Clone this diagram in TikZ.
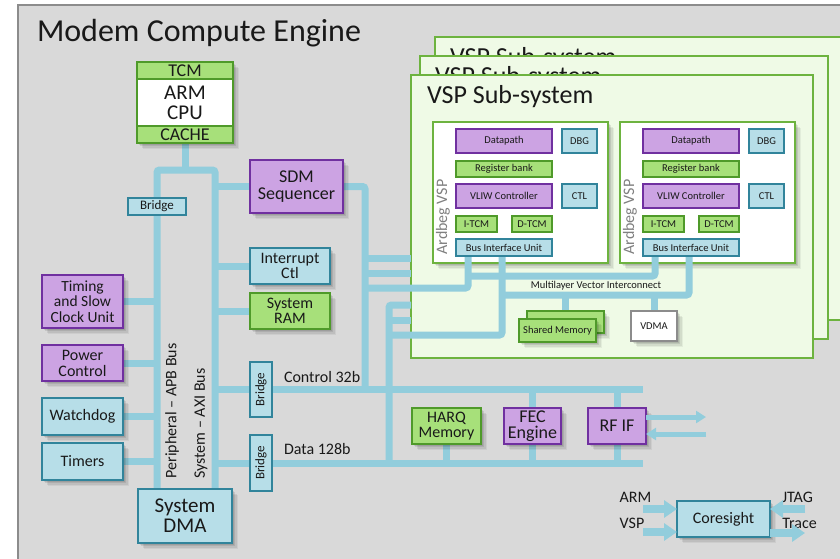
\documentclass[tikz,border=0pt]{standalone}
\usepackage{fontspec}
\setmainfont{Carlito}
\usetikzlibrary{arrows.meta}

\definecolor{bggray}{HTML}{D9D9D9}
\definecolor{framegray}{HTML}{8C8C8C}
\definecolor{busblue}{HTML}{92CDDC}
\definecolor{blufill}{HTML}{B7DEE8}
\definecolor{bluline}{HTML}{31849B}
\definecolor{purfill}{HTML}{CCA3E3}
\definecolor{purline}{HTML}{7030A0}
\definecolor{grnfill}{HTML}{A7E07A}
\definecolor{grnline}{HTML}{4F9A2A}
\definecolor{vspfill}{HTML}{EFFAE6}
\definecolor{vspline}{HTML}{6DB33F}
\definecolor{txtgray}{HTML}{808080}
\definecolor{vdmaline}{HTML}{8C8C8C}

\newcommand\fsz[2]{\fontsize{#1}{#2}\selectfont}

\pgfdeclarelayer{vsplayer}
\pgfdeclarelayer{buslayer}
\pgfsetlayers{vsplayer,buslayer,main}

\tikzset{
  softshadow/.style={
    preaction={fill=black, fill opacity=0.09, transform canvas={xshift=1.5pt,yshift=-1.5pt}},
    preaction={fill=black, fill opacity=0.09, transform canvas={xshift=3pt,yshift=-3pt}},
    preaction={fill=black, fill opacity=0.07, transform canvas={xshift=4.5pt,yshift=-4.5pt}},
    preaction={fill=black, fill opacity=0.05, transform canvas={xshift=6pt,yshift=-6pt}}},
  blk/.style={draw, line width=1.3pt, inner sep=1pt, outer sep=0pt, align=center, text=black!90},
  bluebox/.style={blk, fill=blufill, draw=bluline},
  purbox/.style={blk, fill=purfill, draw=purline},
  grnbox/.style={blk, fill=grnfill, draw=grnline},
  vspbox/.style={draw=vspline, fill=vspfill, line width=1.3pt, inner sep=0pt, outer sep=0pt, anchor=north west},
  ardbox/.style={draw=vspline, fill=white, line width=1.2pt, inner sep=0pt, outer sep=0pt, anchor=north west, softshadow},
  lbl/.style={inner sep=0pt, outer sep=0pt, text=black!90},
  bus/.style={draw=busblue, line width=7pt, rounded corners=2.5pt},
  rfarrow/.style={draw=busblue, line width=5pt, -{Triangle[length=10pt,width=12pt]}},
  csarrow/.style={draw=busblue, line width=7.5pt, -{Triangle[length=13pt,width=17pt]}},
  small/.style={font=\fsz{10.5}{11}},
}

\begin{document}
\begin{tikzpicture}[x=1pt,y=-1pt]
\useasboundingbox (0,0) rectangle (840,558);

% engine frame, VSP sub-systems and cores (bottom layer)
\begin{pgfonlayer}{vsplayer}
\begin{scope}
\clip (0,0) rectangle (840,558);
\fill[bggray] (18,5) rectangle (850,570);
\draw[framegray, line width=2pt] (18,570) -- (18,5) -- (850,5);

% three stacked VSP sub-systems
\node[vspbox, minimum width=430pt, minimum height=283pt] (vspC) at (435,37) {};
\node[anchor=base west, font=\fsz{26}{26}, lbl] (vspCt) at (450,65) {VSP Sub-system};
\node[vspbox, minimum width=408pt, minimum height=283pt] (vspB) at (420,56) {};
\node[anchor=base west, font=\fsz{26}{26}, lbl] (vspBt) at (435,84) {VSP Sub-system};
\node[vspbox, minimum width=402pt, minimum height=283pt] (vspA) at (411,75) {};
\node[anchor=base west, font=\fsz{26}{26}, lbl] (vspAt) at (427,103) {VSP Sub-system};

% two Ardbeg VSP cores
\node[ardbox, minimum width=175pt, minimum height=141pt] (ardL) at (433,122) {};
\node[ardbox, minimum width=175pt, minimum height=141pt] (ardR) at (620,122) {};
\end{scope}
\end{pgfonlayer}

\node[lbl, rotate=90, text=txtgray, font=\fsz{16}{16}] (ardLt) at (443,217) {Ardbeg VSP};
\node[lbl, rotate=90, text=txtgray, font=\fsz{16}{16}] (ardRt) at (630,217) {Ardbeg VSP};

% left core internals
\node[purbox, small, minimum width=96pt, minimum height=24pt] (dpL) at (504,141) {Datapath};
\node[bluebox, small, minimum width=35pt, minimum height=24pt] (dbgL) at (579.5,141) {DBG};
\node[grnbox, small, minimum width=96pt, minimum height=16pt] (rbL) at (504,169) {Register bank};
\node[purbox, small, minimum width=96pt, minimum height=24pt] (vlL) at (504,196) {VLIW Controller};
\node[bluebox, small, minimum width=35pt, minimum height=24pt] (ctlL) at (579.5,196) {CTL};
\node[grnbox, small, minimum width=41pt, minimum height=16pt] (itL) at (476.5,224) {I-TCM};
\node[grnbox, small, minimum width=40pt, minimum height=16pt] (dtL) at (532,224) {D-TCM};
\node[bluebox, small, minimum width=96pt, minimum height=17pt] (biuL) at (504,247.5) {Bus Interface Unit};

% right core internals
\node[purbox, small, minimum width=96pt, minimum height=24pt] (dpR) at (691,141) {Datapath};
\node[bluebox, small, minimum width=35pt, minimum height=24pt] (dbgR) at (766.5,141) {DBG};
\node[grnbox, small, minimum width=96pt, minimum height=16pt] (rbR) at (691,169) {Register bank};
\node[purbox, small, minimum width=96pt, minimum height=24pt] (vlR) at (691,196) {VLIW Controller};
\node[bluebox, small, minimum width=35pt, minimum height=24pt] (ctlR) at (766.5,196) {CTL};
\node[grnbox, small, minimum width=41pt, minimum height=16pt] (itR) at (663.5,224) {I-TCM};
\node[grnbox, small, minimum width=40pt, minimum height=16pt] (dtR) at (719,224) {D-TCM};
\node[bluebox, small, minimum width=96pt, minimum height=17pt] (biuR) at (691,247.5) {Bus Interface Unit};

% shared memory, VDMA, interconnect label
\node[grnbox, softshadow, minimum width=77pt, minimum height=22pt] (shmb) at (565.5,322) {};
\node[grnbox, softshadow, small, minimum width=77pt, minimum height=23pt] (shm) at (557.5,330.5) {Shared Memory};
\node[blk, softshadow, fill=white, draw=vdmaline, small, minimum width=46pt, minimum height=30pt] (vdma) at (654,326) {VDMA};
\node[lbl, small] (mvi) at (596,286) {Multilayer Vector Interconnect};

% title
\node[lbl, anchor=base west, font=\fsz{32}{32}] (title) at (37,41) {Modem Compute Engine};

% ARM CPU
\node[softshadow, fill=white, inner sep=0pt, minimum width=96pt, minimum height=81pt] (cpubody) at (185,102.5) {};
\node[grnbox, font=\fsz{18}{18}, minimum width=96pt, minimum height=17pt] (tcm) at (185,70.5) {TCM};
\node[blk, fill=white, draw=grnline, font=\fsz{21}{20}, minimum width=96pt, minimum height=47pt] (arm) at (185,102.5) {ARM\\CPU};
\node[grnbox, font=\fsz{18}{18}, minimum width=96pt, minimum height=17pt] (cache) at (185,134.5) {CACHE};

% system blocks
\node[purbox, softshadow, font=\fsz{18}{17}, minimum width=93pt, minimum height=53pt] (sdm) at (296.5,186.5) {SDM\\Sequencer};
\node[bluebox, softshadow, font=\fsz{16}{15.5}, minimum width=80pt, minimum height=36pt] (intc) at (290,266) {Interrupt\\Ctl};
\node[grnbox, softshadow, font=\fsz{16}{15}, minimum width=80pt, minimum height=36pt] (ram) at (290,311) {System\\RAM};
\node[bluebox, font=\fsz{13}{13}, minimum width=58pt, minimum height=17pt] (brp) at (157,206.5) {Bridge};
\node[purbox, softshadow, font=\fsz{15.5}{15.5}, minimum width=81pt, minimum height=53pt] (tim) at (82.5,301.5) {Timing\\and Slow\\Clock Unit};
\node[purbox, softshadow, font=\fsz{16}{16}, minimum width=81pt, minimum height=36pt] (pwr) at (82.5,363) {Power\\Control};
\node[bluebox, softshadow, font=\fsz{16}{16}, minimum width=81pt, minimum height=37pt] (wdog) at (82.5,416.5) {Watchdog};
\node[bluebox, softshadow, font=\fsz{16}{16}, minimum width=81pt, minimum height=37pt] (tmr) at (82.5,461.5) {Timers};
\node[bluebox, softshadow, font=\fsz{21}{20}, minimum width=94pt, minimum height=54pt] (dma) at (185,516) {System\\DMA};
\node[bluebox, rotate=90, font=\fsz{13}{13}, minimum width=55pt, minimum height=22pt] (brc) at (261,389.5) {Bridge};
\node[bluebox, rotate=90, font=\fsz{13}{13}, minimum width=56pt, minimum height=22pt] (brd) at (261,463) {Bridge};
\node[grnbox, softshadow, font=\fsz{16}{15}, minimum width=69pt, minimum height=36pt] (harq) at (446.5,426) {HARQ\\Memory};
\node[purbox, softshadow, font=\fsz{18}{16.5}, minimum width=57pt, minimum height=36pt] (fec) at (532.5,426) {FEC\\Engine};
\node[purbox, softshadow, font=\fsz{18}{18}, minimum width=58pt, minimum height=36pt] (rfif) at (617,426) {RF IF};
\node[bluebox, softshadow, font=\fsz{16}{16}, minimum width=93pt, minimum height=36pt] (cs) at (723.5,519) {Coresight};

% bus labels
\node[lbl, rotate=90, font=\fsz{16}{16}] (apbl) at (172,411) {Peripheral – APB Bus};
\node[lbl, rotate=90, font=\fsz{16}{16}] (axil) at (201,423.5) {System – AXI Bus};
\node[lbl, anchor=west, font=\fsz{16}{16}] (c32) at (284,377) {Control 32b};
\node[lbl, anchor=west, font=\fsz{16}{16}] (d128) at (284,449) {Data 128b};
\node[lbl, font=\fsz{16}{16}] (larm) at (635.5,497) {ARM};
\node[lbl, font=\fsz{16}{16}] (lvsp) at (632,523) {VSP};
\node[lbl, font=\fsz{16}{16}] (ljtag) at (797.5,497) {JTAG};
\node[lbl, font=\fsz{16}{16}] (ltrace) at (799.5,523) {Trace};

% bus routing points
\coordinate (apbtop) at (157,170);
\coordinate (axitop) at (215,170);
\coordinate (busend) at (643,0);
\coordinate (sdmdown) at (365,188);
\coordinate (s1) at (411,258);
\coordinate (s2) at (411,273);
\coordinate (j1) at (468,288);
\coordinate (dv) at (389,305);
\coordinate (s3) at (411,320);
\coordinate (j2) at (502,335);
\coordinate (ra) at (655,276);
\coordinate (rb) at (689,295);
\coordinate (rfo) at (706,417);
\coordinate (rfi) at (706,434);
\coordinate (armin) at (643,509);
\coordinate (vspin) at (643,532);
\coordinate (jtagin) at (805,509);
\coordinate (traceout) at (805,533);

\begin{pgfonlayer}{buslayer}
% APB and AXI backbones
\draw[bus] (dma.north -| apbtop) -- (apbtop) -- (axitop) -- (dma.north -| axitop);
\draw[bus] (cache.south) -- (cache.south |- apbtop);
% peripherals on APB
\draw[bus] (tim.east) -- (tim.east -| apbtop);
\draw[bus] (pwr.east) -- (pwr.east -| apbtop);
\draw[bus] (wdog.east) -- (wdog.east -| apbtop);
\draw[bus] (tmr.east) -- (tmr.east -| apbtop);
% system blocks on AXI
\draw[bus] (sdm.west -| axitop) -- (sdm.west);
\draw[bus] (intc.west -| axitop) -- (intc.west);
\draw[bus] (ram.west -| axitop) -- (ram.west);
\draw[bus] (brc.south -| axitop) -- (brc.south);
\draw[bus] (brd.south -| axitop) -- (brd.south);
% control and data buses
\draw[bus] (brc.north) -- (brc.north -| busend);
\draw[bus] (brd.north) -- (brd.north -| busend);
\draw[bus] (sdm.east) -- (sdm.east -| sdmdown) -- (sdmdown |- brc.north);
% links into the VSP sub-systems
\draw[bus] (s1 -| sdmdown) -- (s1);
\draw[bus] (s2 -| sdmdown) -- (s2);
\draw[bus] (j1 -| sdmdown) -- (j1) -- (biuL.south -| j1);
\draw[bus] (vspA.west |- dv) -- (dv) -- (dv |- brd.north);
\draw[bus] (s3 -| dv) -- (s3);
\draw[bus] (j2 -| dv) -- (j2) -- (biuL.south -| j2);
% multilayer vector interconnect
\draw[bus] (j1 |- ra) -- (ra) -- (biuR.south -| ra);
\draw[bus] (j2 |- rb) -- (rb) -- (biuR.south -| rb);
\draw[bus] (shmb.north |- rb) -- (shmb.north);
\draw[bus] (vdma.north |- rb) -- (vdma.north);
% modem datapath blocks
\draw[bus] (harq.south) -- (harq.south |- brd.north);
\draw[bus] (fec.north |- brc.north) -- (fec.north);
\draw[bus] (fec.south) -- (fec.south |- brd.north);
\draw[bus] (rfif.north |- brc.north) -- (rfif.north);
\draw[bus] (rfif.south) -- (rfif.south |- brd.north);
\end{pgfonlayer}

% RF interface and debug arrows
\draw[rfarrow] (rfo -| rfif.east) -- (rfo);
\draw[rfarrow] (rfi) -- (rfi -| rfif.east);
\draw[csarrow] (armin) -- (armin -| cs.west);
\draw[csarrow] (vspin) -- (vspin -| cs.west);
\draw[csarrow] (jtagin) -- (jtagin -| cs.east);
\draw[csarrow] (traceout -| cs.east) -- (traceout);
\end{tikzpicture}
\end{document}
